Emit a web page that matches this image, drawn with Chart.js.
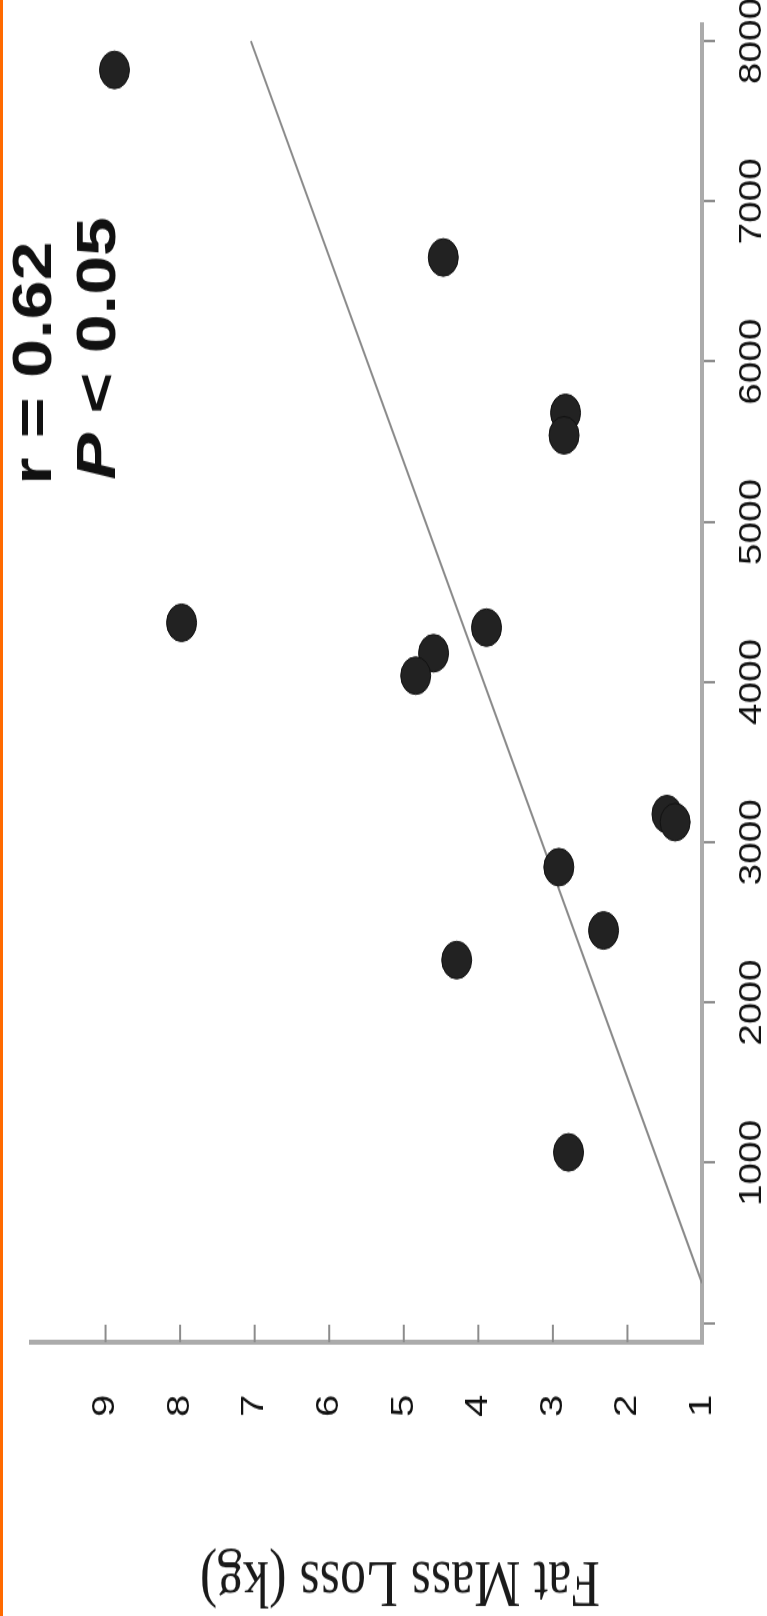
<!DOCTYPE html>
<html>
<head>
<meta charset="utf-8">
<script src="https://cdn.jsdelivr.net/npm/chart.js@4.4.1/dist/chart.umd.min.js"></script>
<style>
  html, body { margin: 0; padding: 0; background: #fff; }
  #page { position: relative; width: 767px; height: 1616px; overflow: hidden; background: #fff; }
  #edge { position: absolute; left: 0; top: 0; width: 3px; height: 1616px; background: #ff6a00; }
  /* the scanned figure is lying on its side, so the chart is drawn landscape and turned */
  #turn { position: absolute; left: 0; top: 0; width: 1293px; height: 767px;
          transform-origin: 0 0; transform: translateY(1616px) rotate(-90deg) scaleX(1.25); }
</style>
</head>
<body>
<div id="page">
  <div id="turn"><canvas id="mycanvas" width="1293" height="767"></canvas></div>
  <div id="edge"></div>
</div>
<script>
var exercise = [7820, 4370, 6650, 5680, 5540, 4340, 4180, 4040, 3176, 3126, 2845, 2450, 2265, 1065];
var fatLoss  = [8.88, 7.98, 4.47, 2.83, 2.85, 3.89, 4.60, 4.84, 1.47, 1.36, 2.92, 2.32, 4.29, 2.79];
var fitX = [250, 8000];
var fitY = [1.0, 7.05];
var xTicks = [0, 1000, 2000, 3000, 4000, 5000, 6000, 7000, 8000];
var yTicks = [1, 2, 3, 4, 5, 6, 7, 8, 9];
var yTitle = "Fat Mass Loss (kg)";
var statR = "r = 0.62";
var statP = " < 0.05";

var points = [];
for (var i in exercise) {
	points.push({x: exercise[i], y: fatLoss[i]});
}
var fitLine = [];
for (var i in fitX) {
	fitLine.push({x: fitX[i], y: fitY[i]});
}

var extras = {
	id: 'extras',
	afterDraw: function(chart) {
		var ctx = chart.ctx, x = chart.scales.x, y = chart.scales.y;
		ctx.save();
		// ticks on the fat axis point into the plot
		ctx.strokeStyle = '#8c8c8c';
		ctx.lineWidth = 2;
		y.ticks.forEach(function(t) {
			if (t.value <= 1) return;
			var py = y.getPixelForValue(t.value);
			ctx.beginPath();
			ctx.moveTo(x.left, py);
			ctx.lineTo(x.left + 14, py);
			ctx.stroke();
		});

		ctx.fillStyle = '#111';
		ctx.textBaseline = 'alphabetic';
		ctx.textAlign = 'left';
		ctx.font = 'bold 56px "Liberation Sans", Arial, sans-serif';
		ctx.fillText(statR, 905, 51);
		ctx.font = 'italic bold 56px "Liberation Sans", Arial, sans-serif';
		ctx.fillText('P', 909, 115);
		var w = ctx.measureText('P').width;
		ctx.font = 'bold 56px "Liberation Sans", Arial, sans-serif';
		ctx.fillText(statP, 909 + w, 115);

		// axis title
		ctx.translate(29, 400);
		ctx.rotate(-Math.PI / 2);
		ctx.textAlign = 'center';
		ctx.textBaseline = 'middle';
		ctx.fillStyle = '#1a1a1a';
		ctx.font = '52px "Liberation Serif", "Times New Roman", serif';
		ctx.fillText(yTitle, 0, 0);
		ctx.restore();
	}
};

var ctx = document.getElementById('mycanvas');

var chart = new Chart(ctx, {
	type: 'scatter',
	data: {
		datasets: [
			{
				label: 'subjects',
				data: points,
				backgroundColor: '#222',
				borderColor: '#111',
				borderWidth: 1,
				pointRadius: 15,
				pointHoverRadius: 15
			},
			{
				label: 'fit',
				data: fitLine,
				showLine: true,
				fill: false,
				borderColor: '#8a8a8a',
				borderWidth: 2,
				pointRadius: 0,
				pointHoverRadius: 0
			}
		]
	},
	options: {
		responsive: false,
		animation: false,
		events: [],
		layout: { padding: { left: 0, right: 19, top: 31, bottom: 0 } },
		plugins: { legend: { display: false }, tooltip: { enabled: false } },
		scales: {
			x: {
				type: 'linear',
				position: 'bottom',
				min: -120,
				max: 8110,
				afterBuildTicks: function(s) { s.ticks = xTicks.map(function(v) { return {value: v}; }); },
				afterFit: function(s) { s.height = 65; s.paddingLeft = 0; s.paddingRight = 0; },
				border: { display: true, color: '#ababab', width: 4 },
				grid: { display: true, drawOnChartArea: false, drawTicks: true, tickLength: 13, color: '#8c8c8c', lineWidth: 2 },
				ticks: {
					maxRotation: 0,
					autoSkip: false,
					padding: 19,
					color: '#111',
					font: { family: '"Liberation Sans", Arial, sans-serif', size: 31 },
					// the zero tick has no label in the figure
					callback: function(v) { return v === 0 ? '' : String(v); }
				}
			},
			y: {
				type: 'linear',
				position: 'left',
				min: 1,
				max: 10,
				afterBuildTicks: function(s) { s.ticks = yTicks.map(function(v) { return {value: v}; }); },
				afterFit: function(s) { s.width = 219; s.paddingTop = 0; s.paddingBottom = 0; },
				border: { display: true, color: '#ababab', width: 4 },
				grid: { display: true, drawOnChartArea: false, drawTicks: false },
				ticks: {
					autoSkip: false,
					padding: 42,
					color: '#111',
					font: { family: '"Liberation Sans", Arial, sans-serif', size: 32 },
					callback: function(v) { return String(v); }
				}
			}
		}
	},
	plugins: [extras]
});
</script>
</body>
</html>
